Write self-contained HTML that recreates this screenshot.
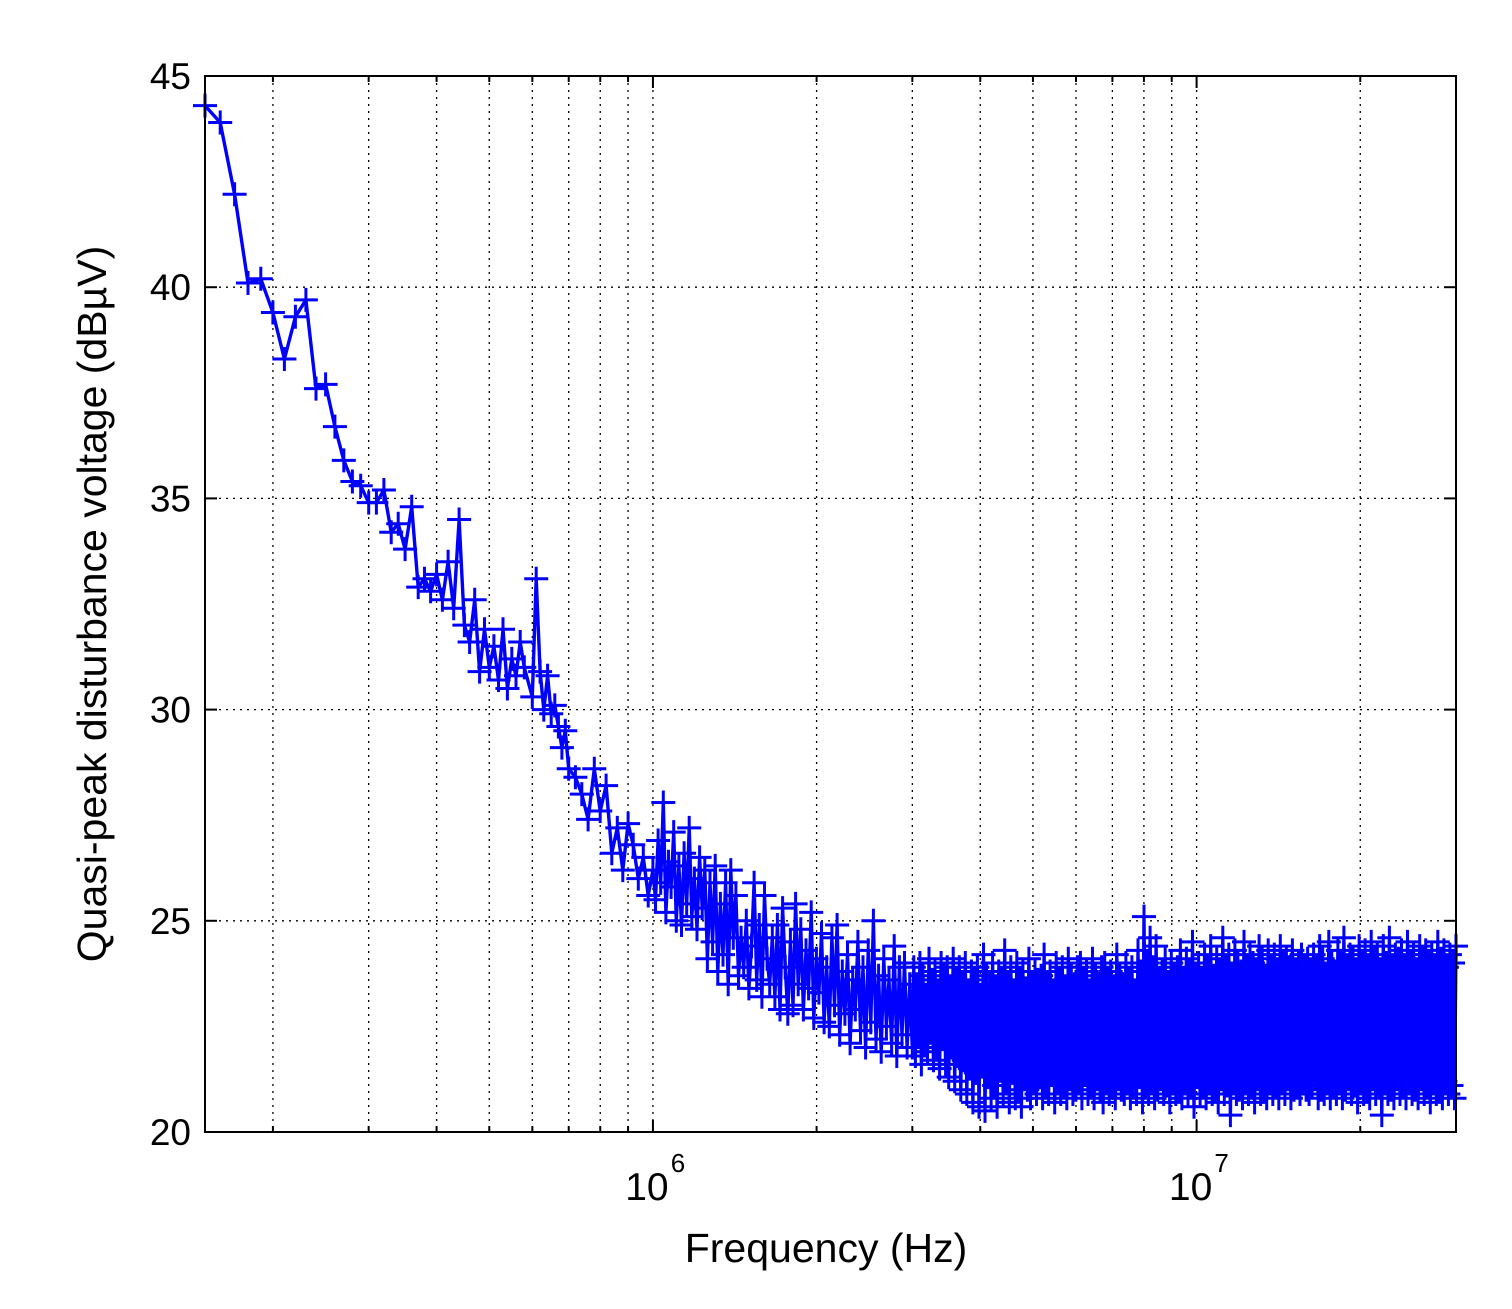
<!DOCTYPE html>
<html><head><meta charset="utf-8"><style>
html,body{margin:0;padding:0;background:#fff;}
svg text{font-family:"Liberation Sans",Arial,sans-serif;fill:#000;}
</style></head><body>
<svg id="chart" width="1512" height="1304" xmlns="http://www.w3.org/2000/svg">
<g id="grid"></g>
<g id="series"></g>
<g id="axes"></g>
<text x="826" y="1262" font-size="41" text-anchor="middle">Frequency (Hz)</text>
<text transform="translate(106,604) rotate(-90)" font-size="41" text-anchor="middle">Quasi-peak disturbance voltage (dBµV)</text>
</svg>
<script>
// sparse low-frequency data (kHz, dBµV)
const lowFreqKHz = [150,160,170,180,190,200,210,220,230,240,250,260,270,280,290,300,310,320,330,340,350,360,370,380,390,400,410,420,430,440,450,460,470,480,490,500,510,520,530,540,550,560,570,580,600,610,620,630,640,650,660,670,680,690,700,720,740,760,780,800,820,840,860,880,900,920,940,960,980];
const lowValues = [44.3,43.9,42.2,40.1,40.2,39.4,38.3,39.3,39.7,37.6,37.7,36.7,35.9,35.4,35.3,34.9,34.9,35.2,34.2,34.4,33.8,34.8,32.9,33.1,32.8,33.2,32.6,33.5,32.4,34.5,32.0,31.6,32.6,30.9,31.9,31.0,31.5,30.7,31.9,30.5,31.2,30.8,31.6,31.0,30.3,33.1,30.9,30.0,30.8,29.9,30.1,29.6,29.1,29.5,28.6,28.4,28.0,27.4,28.6,27.6,28.2,26.6,27.2,26.2,27.3,26.8,26.0,26.5,25.6];
// 1–3 MHz, log-spaced measurement grid
const midStartKHz = 1000, midStopKHz = 3000;
const midValues = [
26.2,25.5,26.9,25.9,27.8,25.2,26.4,25.8,27.1,25.0,26.3,24.9,26.6,25.4,27.2,25.1,26.0,24.8,26.5,25.3,
26.2,24.1,25.9,24.5,26.3,23.8,25.4,24.2,25.9,23.5,26.2,24.6,25.6,23.7,24.6,23.9,25.0,23.4,24.4,25.9,
23.6,24.9,23.2,25.6,24.1,23.5,24.6,23.2,24.9,22.9,25.3,23.9,22.8,24.5,23.0,25.4,23.5,24.8,22.9,24.3,
23.4,25.2,22.7,24.1,23.3,24.7,22.6,23.9,22.5,24.6,23.0,24.9,22.3,23.8,22.8,24.2,22.1,23.6,22.9,24.5,
22.4,23.9,22.0,24.3,22.6,25.0,22.2,23.7,21.9,24.1,22.5,23.6,22.1,24.4,21.8,23.9,22.3,24.0,22.0,23.5];
// 3–30 MHz, log-spaced measurement grid
const hiStartKHz = 3000, hiStopKHz = 30000;
const hiValues = [
22.0,23.9,21.8,23.5,22.3,24.0,21.6,23.7,22.1,23.2,21.9,24.1,22.4,23.6,21.7,23.8,22.0,23.3,21.5,24.0,
22.2,23.7,21.6,23.9,21.3,23.4,22.0,24.1,21.2,23.6,21.8,23.9,21.0,23.5,21.7,24.0,20.9,23.3,21.5,23.8,
20.7,23.6,21.4,23.9,20.6,23.2,21.6,24.2,20.5,23.7,21.3,23.5,20.8,24.0,21.1,23.4,20.6,23.8,21.5,23.6,
20.9,24.3,21.2,23.5,20.7,23.9,21.4,23.3,20.8,24.0,21.0,23.6,20.6,23.8,21.3,23.4,21.0,24.1,20.8,23.5,
21.2,23.8,20.9,23.6,21.3,23.7,20.8,24.2,21.1,23.5,20.9,23.8,21.4,23.3,20.7,24.0,21.2,23.6,20.9,23.9,
21.1,23.4,20.8,24.1,21.3,23.7,20.9,23.5,21.0,23.9,21.2,24.0,20.8,23.6,21.4,23.8,20.9,23.3,21.1,24.1,
20.8,23.7,21.3,23.5,21.0,23.9,20.7,24.0,21.2,23.6,20.9,23.8,21.1,23.4,20.8,24.2,21.3,23.7,21.0,23.5,
20.9,24.0,21.2,23.6,20.8,23.9,21.1,23.3,20.9,24.3,21.3,23.8,20.7,25.1,21.1,24.0,20.9,24.6,21.2,23.9,
20.8,24.4,21.0,23.6,21.3,23.8,20.9,24.1,21.1,23.5,20.7,24.0,21.2,23.7,20.9,23.9,21.0,24.3,20.8,23.6,
21.2,24.1,20.9,23.8,21.1,24.5,20.6,23.7,21.3,24.0,20.9,23.6,21.1,24.2,20.8,23.9,21.2,24.4,20.9,23.7,
21.0,24.1,20.7,23.8,21.3,24.6,20.9,23.9,21.1,24.2,20.4,23.7,21.2,24.3,20.9,24.0,21.0,23.8,20.8,24.5,
21.2,23.9,20.9,24.2,21.1,24.0,20.7,23.8,21.3,24.4,20.9,24.1,21.0,23.7,20.8,24.3,21.2,23.9,20.9,24.2,
21.1,23.8,20.8,24.4,21.2,24.0,20.9,24.1,21.3,23.9,20.8,24.3,21.0,23.8,21.1,24.0,20.9,24.2,21.2,23.9,
21.0,24.1,20.9,23.8,21.1,24.2,21.3,23.9,20.8,24.4,21.0,24.1,20.9,23.7,21.2,24.5,20.8,24.0,21.1,23.8,
20.9,24.3,21.2,24.0,20.8,24.6,21.0,23.9,21.3,24.2,20.9,24.1,21.1,23.8,20.7,24.4,21.2,24.0,20.9,24.3,
21.0,23.9,20.8,24.5,21.3,24.1,20.9,24.2,21.1,23.8,20.4,24.4,21.2,24.0,20.9,24.6,21.0,23.9,20.8,24.2,
21.3,24.1,20.9,24.3,21.1,23.9,20.8,24.5,21.2,24.0,20.9,24.2,21.0,23.8,20.8,24.4,21.3,24.1,20.9,24.3,
21.1,24.0,20.7,24.2,21.2,23.9,20.9,24.5,21.0,24.1,20.8,24.3,21.2,23.9,20.9,24.2,21.1,24.0,20.8,24.4];
const yTicks = [20,25,30,35,40,45];

const L=205,R=1456,T=76,B=1132;
const xMin=Math.log10(150e3), xMax=Math.log10(30e6);
const xs = f => L + (Math.log10(f)-xMin)/(xMax-xMin)*(R-L);
const ys = v => B - (v-20)/(45-20)*(B-T);
const NS="http://www.w3.org/2000/svg";
function mk(tag, parent, attrs){const e=document.createElementNS(NS,tag);for(const k in attrs)e.setAttribute(k,attrs[k]);parent.appendChild(e);return e;}

// grid
const grid=document.getElementById('grid');
const vgrid=[];
for(let d=5;d<=7;d++)for(let m=1;m<=9;m++){const f=m*Math.pow(10,d);if(f>150e3&&f<30e6)vgrid.push(f);}
vgrid.forEach(f=>{const x=xs(f);
 const g=mk('line',grid,{x1:x,x2:x,y1:T,y2:B,stroke:'#000','stroke-width':1.3,'stroke-dasharray':'2,5'});
 
 
});
yTicks.slice(1,-1).forEach(v=>{const y=ys(v);
 const g=mk('line',grid,{x1:L,x2:R,y1:y,y2:y,stroke:'#000','stroke-width':1.3,'stroke-dasharray':'2,5'});
 
 
});

// data
const F=[],V=[];
lowFreqKHz.forEach((f,i)=>{F.push(f*1e3);V.push(lowValues[i]);});
const midR=Math.pow(midStopKHz/midStartKHz,1/midValues.length);
midValues.forEach((v,i)=>{F.push(midStartKHz*Math.pow(midR,i)*1e3);V.push(v);});
const hiR=Math.pow(hiStopKHz/hiStartKHz,1/(hiValues.length-1));
hiValues.forEach((v,i)=>{F.push(hiStartKHz*Math.pow(hiR,i)*1e3);V.push(v);});
const ser=document.getElementById('series');
const pts=F.map((f,i)=>xs(f).toFixed(1)+','+ys(V[i]).toFixed(1)).join(' ');
const pl=mk('polyline',ser,{points:pts,fill:'none',stroke:'#0000ff','stroke-width':3.4,'stroke-linejoin':'round'});


let d='';
F.forEach((f,i)=>{const x=xs(f),y=ys(V[i]);d+=`M${(x-12).toFixed(1)} ${y.toFixed(1)}h24M${x.toFixed(1)} ${(y-12).toFixed(1)}v24`;});
const mp=mk('path',ser,{d:d,fill:'none',stroke:'#0000ff','stroke-width':3});



// axes
const ax=document.getElementById('axes');
const fr=mk('rect',ax,{x:L,y:T,width:R-L,height:B-T,fill:'none',stroke:'#000','stroke-width':2});


yTicks.forEach(v=>{const y=ys(v);
 mk('line',ax,{x1:L,x2:L+12,y1:y,y2:y,stroke:'#000','stroke-width':2});
 mk('line',ax,{x1:R-12,x2:R,y1:y,y2:y,stroke:'#000','stroke-width':2});
 const t=mk('text',ax,{x:L-14,y:y+13,'font-size':37,'text-anchor':'end'});t.textContent=v;
 
 
});
vgrid.forEach(f=>{const x=xs(f);const major=(f===1e6||f===1e7);const len=major?12:6;
 mk('line',ax,{x1:x,x2:x,y1:B,y2:B-len,stroke:'#000','stroke-width':2});
 mk('line',ax,{x1:x,x2:x,y1:T,y2:T+len,stroke:'#000','stroke-width':2});
});
[[1e6,'6'],[1e7,'7']].forEach(([f,e])=>{const x=xs(f);
 const t=mk('text',ax,{x:x-6,y:1200,'font-size':39,'text-anchor':'middle'});t.textContent='10';
 
 
 const s=mk('text',ax,{x:x+25,y:1172,'font-size':26,'text-anchor':'middle'});s.textContent=e;
 
 
});
</script>
</body></html>
